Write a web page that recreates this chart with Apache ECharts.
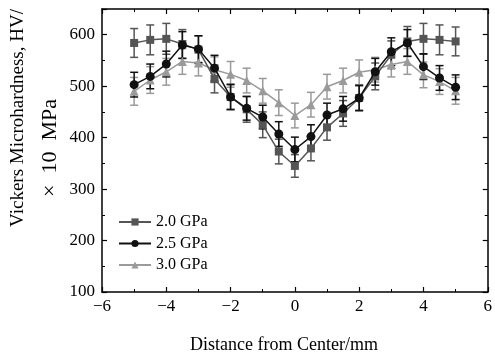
<!DOCTYPE html>
<html>
<head>
<meta charset="utf-8">
<script src="https://cdn.jsdelivr.net/npm/echarts@6/dist/echarts.min.js"></script>
<style>
  html, body { margin: 0; padding: 0; background: #fff; }
  #main { width: 495px; height: 358px; }
</style>
</head>
<body>
<div id="main"></div>
<script>
// distance from center, mm
var dist = [-5, -4.5, -4, -3.5, -3, -2.5, -2, -1.5, -1, -0.5, 0, 0.5, 1, 1.5, 2, 2.5, 3, 3.5, 4, 4.5, 5];
// hardness, HV x 10 MPa
var hv20 = [584, 590, 592, 582, 571, 514, 479, 455, 425, 373, 345, 379, 420, 447, 477, 519, 561, 587, 592, 590, 587];
var hv25 = [503, 519, 543, 580, 572, 535, 479, 457, 440, 407, 377, 402, 444, 456, 477, 528, 567, 584, 538, 516, 498];
var hv30 = [490, 512, 528, 548, 545, 532, 523, 511, 491, 468, 443, 464, 499, 511, 527, 532, 542, 548, 522, 509, 491];
// error half-widths
var err20 = [28, 29, 30, 28, 27, 27, 25, 25, 25, 24, 22, 24, 25, 25, 25, 26, 27, 29, 30, 29, 28];
var err25 = [24, 24, 25, 26, 26, 25, 24, 23, 23, 24, 24, 23, 23, 24, 24, 26, 27, 26, 25, 24, 24];
var err30 = [27, 26, 26, 25, 25, 25, 25, 24, 24, 25, 24, 24, 24, 24, 24, 24, 24, 25, 25, 25, 26];
var seriesNames = ['2.0 GPa', '2.5 GPa', '3.0 GPa'];
var yTicks = [100, 200, 300, 400, 500, 600];

var serif = '"Liberation Serif", "Times New Roman", serif';
var colors = ['#555555', '#111111', '#9a9a9a'];

function pts(vals) {
  return dist.map(function (d, i) { return [d, vals[i]]; });
}
function errPts(vals, errs) {
  return dist.map(function (d, i) { return [d, vals[i] - errs[i], vals[i] + errs[i]]; });
}

function errRender(params, api) {
  var x = api.value(0);
  var top = api.coord([x, api.value(2)]);
  var bot = api.coord([x, api.value(1)]);
  var w = 4;
  var st = { stroke: api.visual('color'), lineWidth: 1.5 };
  return {
    type: 'group',
    children: [
      { type: 'line', shape: { x1: top[0], y1: top[1], x2: bot[0], y2: bot[1] }, style: st },
      { type: 'line', shape: { x1: top[0] - w, y1: top[1], x2: top[0] + w, y2: top[1] }, style: st },
      { type: 'line', shape: { x1: bot[0] - w, y1: bot[1], x2: bot[0] + w, y2: bot[1] }, style: st }
    ]
  };
}

function errSeries(name, vals, errs, color, z) {
  return {
    name: name + ' err',
    type: 'custom',
    renderItem: errRender,
    itemStyle: { color: color },
    data: errPts(vals, errs),
    z: z
  };
}

function lineSeries(name, vals, color, symbol, size, z) {
  return {
    name: name,
    type: 'line',
    data: pts(vals),
    symbol: symbol,
    symbolSize: size,
    lineStyle: { color: color, width: 1.5 },
    itemStyle: { color: color },
    z: z
  };
}

var axisBase = {
  axisLine: { show: true, onZero: false, lineStyle: { color: '#000', width: 1.5 } },
  axisTick: { show: true, inside: true, length: 5, lineStyle: { color: '#000', width: 1.2 } },
  minorTick: { show: true, splitNumber: 2, length: 3, lineStyle: { color: '#000', width: 1 } },
  splitLine: { show: false }
};

var option = {
  animation: false,
  backgroundColor: '#fff',
  grid: { left: 102, right: 5, top: 9, bottom: 66 },
  legend: {
    data: seriesNames,
    orient: 'vertical',
    left: 113,
    top: 209,
    itemWidth: 32,
    itemHeight: 9,
    itemGap: 5.5,
    textStyle: { fontFamily: serif, fontSize: 16, color: '#000' }
  },
  xAxis: [
    Object.assign({
      type: 'value', min: -6, max: 6, interval: 2, position: 'bottom',
      axisLabel: {
        fontFamily: serif, fontSize: 17, color: '#000', margin: 6,
        formatter: function (v) { return String(v).replace('-', '\u2212'); }
      }
    }, axisBase),
    Object.assign({
      type: 'value', min: -6, max: 6, interval: 2, position: 'top',
      axisLabel: { show: false }
    }, axisBase)
  ],
  yAxis: [
    Object.assign({
      type: 'value', min: 100, max: 650, interval: 100, position: 'left',
      axisLabel: {
        fontFamily: serif, fontSize: 17, color: '#000', margin: 7, showMaxLabel: false,
        formatter: function (v) { return yTicks.indexOf(v) >= 0 ? String(v) : ''; }
      }
    }, axisBase),
    Object.assign({
      type: 'value', min: 100, max: 650, interval: 100, position: 'right',
      axisLabel: { show: false }
    }, axisBase)
  ],
  graphic: [
    {
      type: 'text', x: 18, y: 118, rotation: Math.PI / 2,
      style: {
        text: 'Vickers Microhardness, HV/', fontFamily: serif, fontSize: 19,
        fill: '#000', align: 'center', verticalAlign: 'middle'
      }
    },
    {
      type: 'text', x: 50, y: 148, rotation: Math.PI / 2,
      style: {
        text: '\u00d7  10  MPa', fontFamily: serif, fontSize: 22,
        fill: '#000', align: 'center', verticalAlign: 'middle'
      }
    },
    {
      type: 'text', x: 284, y: 345,
      style: {
        text: 'Distance from Center/mm', fontFamily: serif, fontSize: 18,
        fill: '#000', align: 'center', verticalAlign: 'middle'
      }
    }
  ],
  series: [
    errSeries(seriesNames[2], hv30, err30, colors[2], 1),
    errSeries(seriesNames[0], hv20, err20, colors[0], 2),
    errSeries(seriesNames[1], hv25, err25, colors[1], 3),
    lineSeries(seriesNames[2], hv30, colors[2], 'triangle', 9, 4),
    lineSeries(seriesNames[0], hv20, colors[0], 'rect', 8, 5),
    lineSeries(seriesNames[1], hv25, colors[1], 'circle', 9, 6)
  ]
};

var chart = echarts.init(document.getElementById('main'));
chart.setOption(option);
</script>
</body>
</html>
